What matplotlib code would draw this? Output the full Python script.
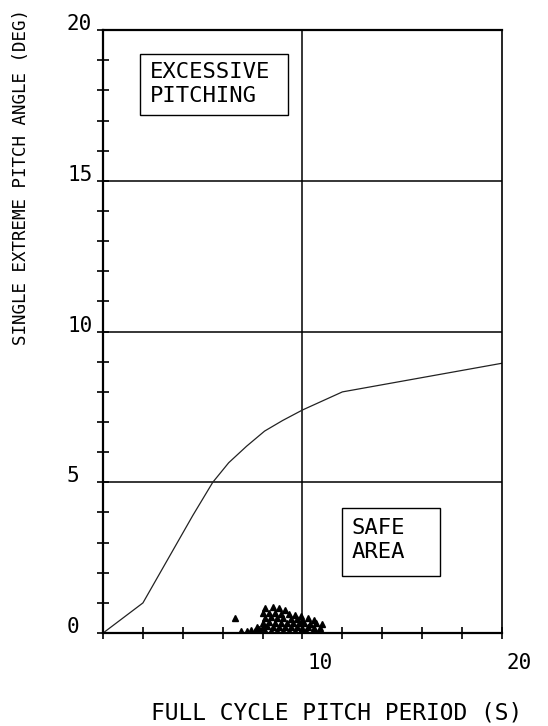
import numpy as np
import matplotlib
matplotlib.use('Agg')
import matplotlib.pyplot as plt
from matplotlib.patches import Rectangle
import matplotlib.transforms as mtransforms

plt.rcParams['font.family'] = ['DejaVu Sans Mono', 'DejaVu Sans']

# limit curve: pitch period (s) vs single extreme pitch angle (deg)
period = [0, 2, 4.5, 5.5, 6.3, 7.2, 8.1, 9, 10, 12, 20]
limit_angle = [0, 1.0, 3.9, 5.0, 5.65, 6.2, 6.7, 7.05, 7.4, 8.0, 8.95]

pts_period = [6.6,
              8.1, 8.5, 8.8, 9.1,
              8.0, 8.3, 8.6, 8.9, 9.3, 9.6, 9.9,
              8.1, 8.4, 8.7, 9.0, 9.4, 9.7, 10.0, 10.3, 10.6,
              8.0, 8.3, 8.6, 8.9, 9.2, 9.5, 9.8, 10.1, 10.4, 10.7, 11.0,
              7.7, 8.0, 8.2, 8.5, 8.8, 9.1, 9.4, 9.7, 10.0, 10.3, 10.6, 10.9,
              6.9, 7.2, 7.4, 7.6, 7.8, 8.1, 8.4, 8.7, 9.0, 9.3, 9.6, 9.9, 10.2]
pts_angle = [0.5,
             0.82, 0.85, 0.82, 0.75,
             0.65, 0.68, 0.66, 0.64, 0.62, 0.6, 0.56,
             0.5, 0.52, 0.5, 0.5, 0.48, 0.46, 0.45, 0.5, 0.44,
             0.35, 0.36, 0.34, 0.35, 0.33, 0.35, 0.32, 0.34, 0.3, 0.33, 0.3,
             0.2, 0.2, 0.22, 0.2, 0.21, 0.2, 0.19, 0.2, 0.18, 0.2, 0.17, 0.16,
             0.06, 0.08, 0.1, 0.07, 0.12, 0.08, 0.07, 0.08, 0.06, 0.08, 0.07, 0.06, 0.08]

y_major = [0, 5, 10, 15, 20]
y_labels = ['0', '5', '10', '15', '20']
x_labeled = [10, 20]
x_labels = ['10', '20']

fig = plt.figure(figsize=(5.48, 7.26), dpi=100)
ax = fig.add_axes([0.188, 0.128, 0.728, 0.8305])
ax.set_xlim(0, 20)
ax.set_ylim(0, 20)

# grid lines
for v in [5, 10, 15]:
    ax.axhline(v, color='black', lw=1.1, zorder=1)
ax.axvline(10, color='black', lw=1.1, zorder=1)

ax.plot(period, limit_angle, color='#222222', lw=0.9, zorder=2)
ax.plot(pts_period, pts_angle, linestyle='none', marker='^', ms=4,
        color='black', zorder=3)

# boxes
ax.add_patch(Rectangle((1.86, 17.2), 7.4, 2.0, fill=False, lw=1.0,
                       edgecolor='black', zorder=4))
ax.text(2.35, 18.2, 'EXCESSIVE\nPITCHING', fontsize=16, ha='left',
        va='center', linespacing=1.25, zorder=5)
ax.add_patch(Rectangle((12.0, 1.9), 4.9, 2.25, fill=False, lw=1.0,
                       edgecolor='black', zorder=4))
ax.text(12.45, 3.1, 'SAFE\nAREA', fontsize=16, ha='left',
        va='center', linespacing=1.25, zorder=5)

# spines and ticks
for s in ['left', 'bottom', 'top']:
    ax.spines[s].set_linewidth(1.6)
ax.spines['right'].set_linewidth(1.2)
ax.set_xticks(np.arange(0, 21, 2))
ax.set_yticks(np.arange(0, 21, 1))
ax.tick_params(direction='inout', length=8, width=1.2, labelbottom=False,
               labelleft=False)

# tick labels drawn manually (left aligned like the plotter)
ytrans = mtransforms.blended_transform_factory(fig.transFigure, ax.transData)
for v, lab in zip(y_major, y_labels):
    ax.text(67 / 548, v, lab, transform=ytrans, fontsize=15, ha='left',
            va='baseline')
off = mtransforms.ScaledTranslation(5 / 100, -20 / 100, fig.dpi_scale_trans)
for v, lab in zip(x_labeled, x_labels):
    ax.text(v, 0, lab, transform=ax.transData + off, fontsize=15,
            ha='left', va='top')

fig.text(337 / 548, 1 - 713 / 726, 'FULL CYCLE PITCH PERIOD (S)',
         fontsize=16.5, ha='center', va='center')
fig.text(21 / 548, 1 - 177 / 726, 'SINGLE EXTREME PITCH ANGLE (DEG)',
         fontsize=12.6, ha='center', va='center', rotation=90)

fig.savefig('out.png', dpi=100)
